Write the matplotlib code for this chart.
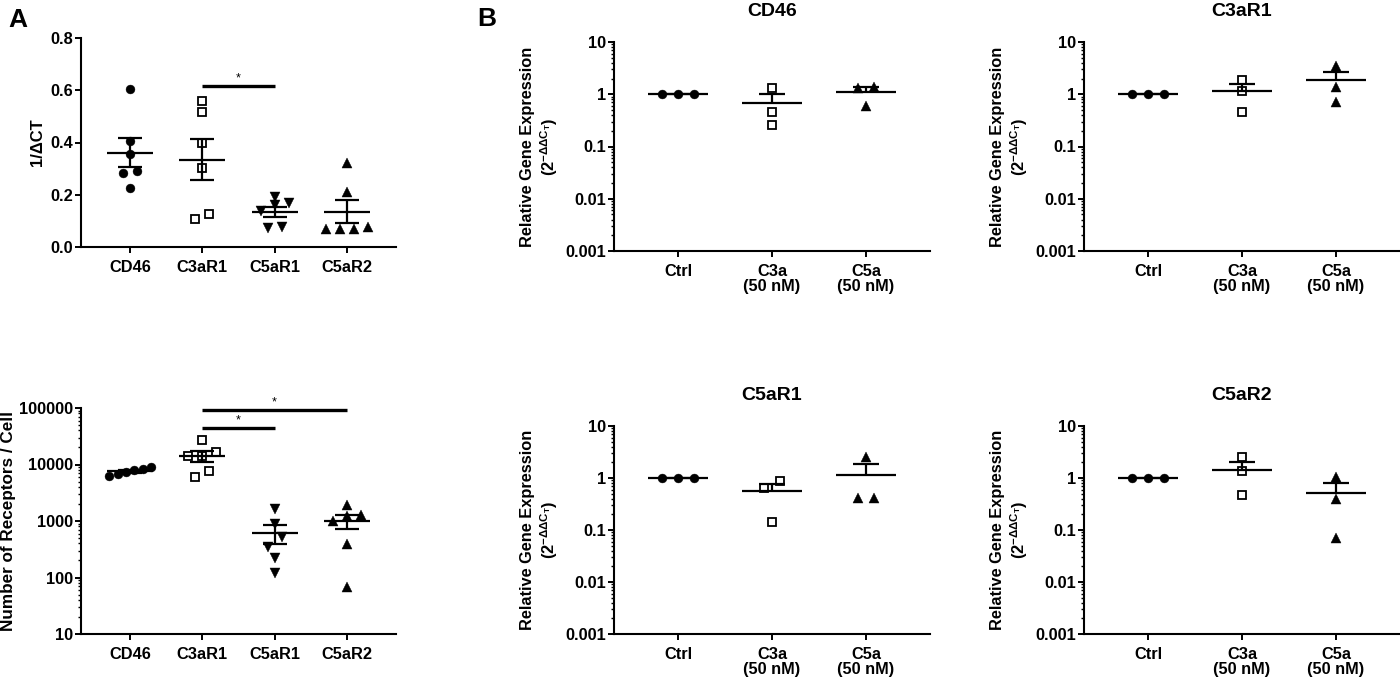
import matplotlib
matplotlib.use('Agg')
import matplotlib.pyplot as plt
from matplotlib.ticker import NullFormatter, LogLocator
import numpy as np

plt.rcParams['font.family'] = ['Liberation Sans', 'DejaVu Sans']
plt.rcParams['font.weight'] = 'bold'
plt.rcParams['axes.labelweight'] = 'bold'
plt.rcParams['axes.titleweight'] = 'bold'
plt.rcParams['mathtext.fontset'] = 'custom'
plt.rcParams['mathtext.rm'] = 'Liberation Sans:bold'
plt.rcParams['mathtext.bf'] = 'Liberation Sans:bold'
plt.rcParams['mathtext.it'] = 'Liberation Sans:bold:italic'

# ---- panel A data ----
receptors = ['CD46', 'C3aR1', 'C5aR1', 'C5aR2']

# 1/dCT
dct_cd46 = [0.605, 0.405, 0.355, 0.285, 0.29, 0.225]
dct_c3ar1 = [0.559, 0.517, 0.398, 0.302, 0.107, 0.126]
dct_c5ar1 = [0.191, 0.138, 0.168, 0.161, 0.073, 0.077]
dct_c5ar2 = [0.32, 0.21, 0.069, 0.077, 0.069, 0.069]

# receptors per cell
rpc_cd46 = [6790, 9040, 7360, 8320, 6250, 8000]
rpc_c3ar1 = [27000, 16600, 14100, 14300, 7800, 6000]
rpc_c5ar1 = [1600, 900, 521, 347, 221, 120]
rpc_c5ar2 = [1000, 1920, 1277, 1230, 392, 68]

dct_ticks = [0.0, 0.2, 0.4, 0.6, 0.8]
dct_ticklabels = ['0.0', '0.2', '0.4', '0.6', '0.8']
rpc_ticks = [10, 100, 1000, 10000, 100000]
rpc_ticklabels = ['10', '100', '1000', '10000', '100000']

# ---- panel B data (2^-ddCT) ----
treatments = ['Ctrl', 'C3a\n(50 nM)', 'C5a\n(50 nM)']

cd46_ctrl = [1, 1, 1]
cd46_c3a = [1.32, 0.457, 0.258]
cd46_c5a = [1.38, 1.33, 0.6]

c3ar1_ctrl = [1, 1, 1]
c3ar1_c3a = [1.87, 1.15, 0.457]
c3ar1_c5a = [3.47, 1.38, 0.71]

c5ar1_ctrl = [1, 1, 1]
c5ar1_c3a = [0.65, 0.88, 0.145]
c5ar1_c5a = [2.55, 0.41, 0.42]

c5ar2_ctrl = [1, 1, 1]
c5ar2_c3a = [2.5, 1.35, 0.48]
c5ar2_c5a = [1.05, 0.40, 0.07]

rge_ticks = [0.001, 0.01, 0.1, 1, 10]
rge_ticklabels = ['0.001', '0.01', '0.1', '1', '10']

W, H = 1400, 679
fig = plt.figure(figsize=(W / 100, H / 100), dpi=100)


def px_axes(left, top, right, bottom):
    return fig.add_axes([left / W, 1 - bottom / H, (right - left) / W, (bottom - top) / H])


def setup(ax, xlabels, log, ylim, ticks, ticklabels):
    ax.set_xlim(-0.68, len(xlabels) - 1 + 0.68)
    if log:
        ax.set_yscale('log')
    ax.set_ylim(*ylim)
    ax.set_yticks(ticks, ticklabels)
    if log:
        ax.yaxis.set_minor_locator(LogLocator(base=10, subs=np.arange(2, 10)))
        ax.yaxis.set_minor_formatter(NullFormatter())
    ax.set_xticks(range(len(xlabels)), xlabels)
    for lbl in ax.get_xticklabels():
        lbl.set_linespacing(1.02)
    for s in ['top', 'right']:
        ax.spines[s].set_visible(False)
    for s in ['left', 'bottom']:
        ax.spines[s].set_linewidth(1.5)
    ax.tick_params(which='major', length=4, width=1.4, labelsize=11.8)
    ax.tick_params(which='minor', length=2.2, width=1.0)
    ax.tick_params(axis='x', pad=5.5)
    ax.tick_params(axis='y', pad=1.5)


def swarm_offsets(ax, vals, row_px, step_px, max_px):
    pts = ax.transData.transform(np.column_stack([np.zeros(len(vals)), vals]))
    ys = pts[:, 1]
    ppu = ax.transData.transform([(1, vals[0])])[0, 0] - pts[0, 0]
    rows = []
    for k in np.argsort(vals, kind='stable'):
        if rows and abs(ys[k] - ys[rows[-1][0]]) < row_px:
            rows[-1].append(k)
        else:
            rows.append([k])
    offs = np.zeros(len(vals))
    for r in rows:
        n = len(r)
        step = step_px if n < 2 else min(step_px, max_px / (n - 1))
        for m, k in enumerate(r):
            offs[k] = (m - (n - 1) / 2) * step / ppu
    return offs


def draw_groups(ax, groups, markers, mean_hw, cap_hw, both, step_px, max_px):
    for i, (vals, mk) in enumerate(zip(groups, markers)):
        vals = np.asarray(vals, float)
        offs = swarm_offsets(ax, vals, 10, step_px, max_px)
        if mk == 's':
            ax.plot(i + offs, vals, ls='none', marker='s', ms=5.4, mfc='white',
                    mec='black', mew=1.3, zorder=3, clip_on=False)
        else:
            ms = 6.4 if mk == 'o' else 7.2
            ax.plot(i + offs, vals, ls='none', marker=mk, ms=ms, mfc='black',
                    mec='black', mew=0.3, zorder=3, clip_on=False)
        mean = vals.mean()
        sem = vals.std(ddof=1) / np.sqrt(len(vals))
        lo = mean - sem if both else mean
        ax.hlines(mean, i - mean_hw, i + mean_hw, colors='black', lw=1.6,
                  zorder=4, capstyle='butt')
        ax.vlines(i, lo, mean + sem, colors='black', lw=1.6, zorder=4, capstyle='butt')
        ax.hlines(mean + sem, i - cap_hw, i + cap_hw, colors='black', lw=1.6,
                  zorder=4, capstyle='butt')
        if both:
            ax.hlines(mean - sem, i - cap_hw, i + cap_hw, colors='black', lw=1.6,
                      zorder=4, capstyle='butt')


def sig_bar(ax, i, j, yfrac):
    tr = ax.get_xaxis_transform()
    ax.plot([i, j], [yfrac, yfrac], color='black', lw=2.4, transform=tr,
            solid_capstyle='butt', clip_on=False)
    ax.text((i + j) / 2, yfrac + 0.008, '*', ha='center', va='bottom',
            fontsize=9, fontweight='normal', transform=tr)


markers_a = ['o', 's', 'v', '^']
markers_b = ['o', 's', '^']

# ---- panel A top ----
ax = px_axes(81, 38, 396, 247)
setup(ax, receptors, False, (0, 0.8), dct_ticks, dct_ticklabels)
draw_groups(ax, [dct_cd46, dct_c3ar1, dct_c5ar1, dct_c5ar2], markers_a,
            0.32, 0.167, True, 14, 42)
ax.set_ylabel('1/ΔCT', fontsize=12)
ax.yaxis.set_label_coords(-0.115, 0.5)
sig_bar(ax, 1, 2, 0.771)

# ---- panel A bottom ----
ax = px_axes(81, 408, 396, 634)
setup(ax, receptors, True, (10, 100000), rpc_ticks, rpc_ticklabels)
draw_groups(ax, [rpc_cd46, rpc_c3ar1, rpc_c5ar1, rpc_c5ar2], markers_a,
            0.32, 0.167, True, 14, 42)
ax.set_ylabel('Number of Receptors / Cell', fontsize=12.3)
ax.yaxis.set_label_coords(-0.205, 0.5)
sig_bar(ax, 1, 3, 0.991)
sig_bar(ax, 1, 2, 0.912)

# ---- panel B ----
panel_b = [
    ('CD46', (614, 42, 930, 251), [cd46_ctrl, cd46_c3a, cd46_c5a]),
    ('C3aR1', (1084, 42, 1400, 251), [c3ar1_ctrl, c3ar1_c3a, c3ar1_c5a]),
    ('C5aR1', (614, 426, 930, 634), [c5ar1_ctrl, c5ar1_c3a, c5ar1_c5a]),
    ('C5aR2', (1084, 426, 1400, 634), [c5ar2_ctrl, c5ar2_c3a, c5ar2_c5a]),
]
for title, box, groups in panel_b:
    ax = px_axes(*box)
    setup(ax, treatments, True, (0.001, 10), rge_ticks, rge_ticklabels)
    draw_groups(ax, groups, markers_b, 0.32, 0.14, False, 16, 40)
    ax.set_title(title, fontsize=14, pad=19)
    ax.set_ylabel('Relative Gene Expression\n(2$^{\\mathbf{-ΔΔC_T}}$)', fontsize=11.8)
    ax.yaxis.set_label_coords(-0.171, 0.5)

fig.text(8 / W, 1 - 27 / H, 'A', fontsize=19, fontweight='bold', va='baseline')
fig.text(477 / W, 1 - 26 / H, 'B', fontsize=19, fontweight='bold', va='baseline')

fig.savefig('out.png', dpi=100)
